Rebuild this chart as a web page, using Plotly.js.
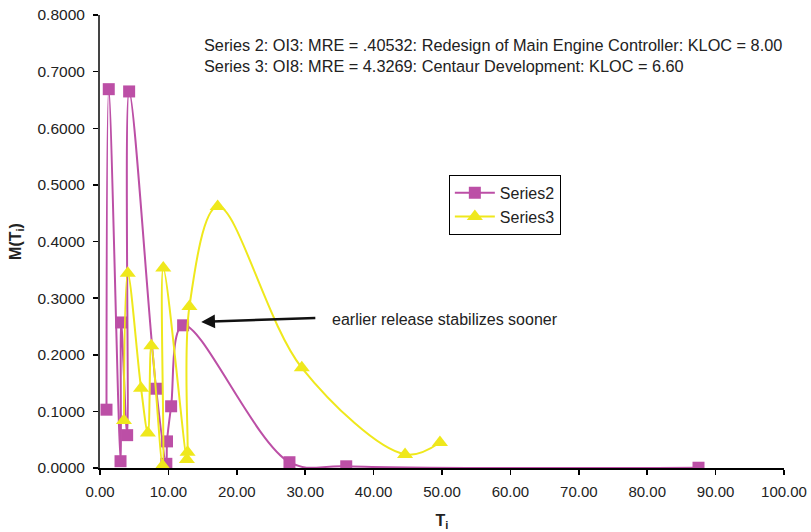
<!DOCTYPE html>
<html>
<head>
<meta charset="utf-8">
<script src="https://cdn.plot.ly/plotly-3.0.1.min.js"></script>
<style>
  html, body { margin: 0; padding: 0; background: #fff; }
  #chart { width: 811px; height: 532px; }
</style>
</head>
<body>
<div id="chart"></div>
<script>
// Series2: OI3, Redesign of Main Engine Controller
const series2T = [0.95, 1.28, 3.0, 3.1, 3.97, 4.26, 8.2, 9.7, 9.8, 10.4, 12.15, 27.7, 36.0, 87.5];
const series2M = [0.103, 0.669, 0.012, 0.257, 0.058, 0.665, 0.140, 0.0074, 0.047, 0.109, 0.252, 0.0102, 0.003, 0.0005];

// Series3: OI8, Centaur Development
const series3T = [3.5, 4.06, 6.0, 7.0, 7.5, 9.15, 9.25, 12.7, 12.8, 13.07, 17.2, 29.5, 44.6, 49.7];
const series3M = [0.084, 0.344, 0.141, 0.062, 0.216, 0.004, 0.353, 0.015, 0.028, 0.285, 0.462, 0.177, 0.024, 0.045];

const xTicks = [0, 10, 20, 30, 40, 50, 60, 70, 80, 90, 100];
const yTicks = [0, 0.1, 0.2, 0.3, 0.4, 0.5, 0.6, 0.7, 0.8];

const FONT = 'Liberation Sans, Arial, sans-serif';
const TEXT = '#222';
const MAGENTA = '#BC4FA6';
const YELLOW = '#EFE81C';

const traces = [
  {
    x: series2T, y: series2M, name: 'Series2', type: 'scatter', mode: 'lines+markers',
    line: { color: MAGENTA, width: 2, shape: 'spline', smoothing: 1 },
    marker: { symbol: 'square', size: 12, color: MAGENTA }
  },
  {
    x: series3T, y: series3M, name: 'Series3', type: 'scatter', mode: 'lines+markers',
    line: { color: YELLOW, width: 2, shape: 'spline', smoothing: 1 },
    marker: { symbol: 'triangle-up', size: 14, color: YELLOW }
  }
];

const layout = {
  width: 811, height: 532,
  margin: { l: 100, r: 27, t: 15, b: 64 },
  paper_bgcolor: '#fff', plot_bgcolor: '#fff',
  font: { family: FONT, size: 15, color: TEXT },
  showlegend: true,
  legend: {
    x: 0.51, y: 0.647, xanchor: 'left', yanchor: 'top',
    bordercolor: '#000', borderwidth: 1, bgcolor: '#fff',
    font: { family: FONT, size: 16, color: TEXT },
    itemwidth: 40,
    tracegroupgap: 0
  },
  xaxis: {
    range: [0, 100], tickvals: xTicks, tickformat: '.2f',
    showgrid: false, zeroline: false,
    showline: true, linecolor: '#000', linewidth: 1.5,
    ticks: 'outside', ticklen: 5, tickcolor: '#000', tickwidth: 1.5,
    ticklabelstandoff: 4,
    tickfont: { family: FONT, size: 15, color: TEXT },
    title: { text: '<b>T<sub>i</sub></b>', font: { family: FONT, size: 16, color: TEXT }, standoff: 16 }
  },
  yaxis: {
    range: [0, 0.8], tickvals: yTicks, tickformat: '.4f',
    showgrid: false, zeroline: false,
    showline: true, linecolor: '#444', linewidth: 2,
    ticks: 'outside', ticklen: 5, tickcolor: '#000', tickwidth: 1.5,
    ticklabelstandoff: 5,
    tickfont: { family: FONT, size: 15.5, color: TEXT },
    title: { text: '<b>M(T<sub>i</sub>)</b>', font: { family: FONT, size: 16, color: TEXT }, standoff: 12 }
  },
  annotations: [
    {
      xref: 'x', yref: 'y', x: 14.9, y: 0.766, xanchor: 'left', yanchor: 'top',
      align: 'left', showarrow: false,
      text: 'Series 2: OI3: MRE = .40532: Redesign of Main Engine Controller: KLOC = 8.00<br>' +
            'Series 3: OI8: MRE = 4.3269: Centaur Development: KLOC = 6.60',
      font: { family: FONT, size: 16.3, color: TEXT }
    },
    {
      xref: 'x', yref: 'y', x: 14.8, y: 0.258, axref: 'x', ayref: 'y', ax: 31.7, ay: 0.265,
      showarrow: true, arrowhead: 2, arrowsize: 1.1, arrowwidth: 2.5, arrowcolor: '#111', text: ''
    },
    {
      xref: 'x', yref: 'y', x: 33.6, y: 0.262, xanchor: 'left', yanchor: 'middle',
      showarrow: false, text: 'earlier release stabilizes sooner',
      font: { family: FONT, size: 16, color: TEXT }
    }
  ]
};

Plotly.newPlot('chart', traces, layout, { displayModeBar: false, staticPlot: true });
</script>
</body>
</html>
